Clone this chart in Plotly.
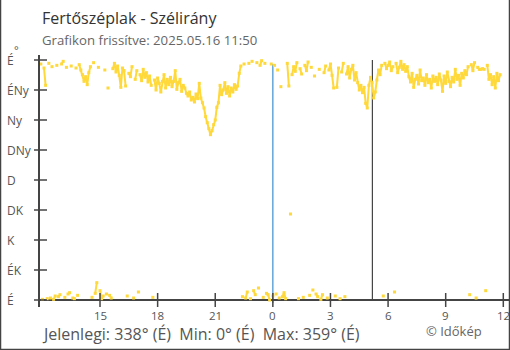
import plotly.graph_objects as go
import pandas as pd

# Wind direction (degrees), one reading every 5 minutes from 11:55 on 15 May
series_start = "2025-05-15 11:55"
step = "5min"
wind_dir_deg = [
    354, 1, 348, 322, 2,
    355, 3, 350, 1, 6, 352, 5, 8, 354, 358, 4, 349, 9, 11, 351, 3, 2, 348, 7, 353, 345,
    338, 328, 335, 323, 341, 350,
    4, 356, 10, 26, 349, 14, 2, 6, 345, 9, 318, 7, 3, 347, 355, 342, 351, 337, 319, 348, 344,
    321, 6, 340, 335, 350, 3, 331, 344, 12, 338, 329, 346, 334, 341, 327,
    336, 322, 4, 330, 315, 333, 325, 312, 328, 338, 318, 331, 323, 334,
    320, 328, 344, 316, 326, 331, 313, 322, 318, 310, 306,
    312, 300, 304, 297, 309, 302, 325, 303, 296,
    288, 275, 266, 257, 248,
    254, 263, 270,
    289, 296, 322, 308,
    315, 326, 310, 320, 306, 318, 312, 323, 316, 321,
    340, 351,
    5, 354, 3, 12, 355, 2, 358, 14, 8, 356, 18, 352, 359, 4, 355, 10, 8, 0, 354, 6,
    352, 9, 345, 3, 320, 5, 11, 2, 355, 321, 129, 338, 350, 343, 356, 2, 347, 339, 4, 352,
    344, 357, 7, 349, 15, 336, 9, 5, 346, 1, 8, 341, 351, 3, 345, 354, 337, 318, 6, 319,
    348, 2, 342, 355, 5, 339, 350, 333, 346, 352, 330, 341,
    326, 315, 322, 311, 319,
    295, 288,
    322, 334, 326,
    303, 312, 330,
    345, 338, 352, 6, 355, 347,
    352, 357, 344, 350, 12, 355, 341, 349, 358, 346, 353, 343, 350,
    335, 327, 340, 319, 331, 337, 324, 345, 329, 333, 322, 338, 326, 331, 318, 336, 328, 334, 323,
    339, 330, 313, 336, 325, 342, 328, 320, 334, 327, 346, 331, 337, 322, 340, 333, 344, 338,
    350, 8, 353, 344, 356, 3, 349, 346, 346, 347, 346, 14, 352,
    331, 338, 323, 335, 318, 340, 329, 338,
]

dir_tick_vals = [0, 45, 90, 135, 180, 225, 270, 315, 360]
dir_tick_text = ["É", "ÉK", "K", "DK", "D", "DNy", "Ny", "ÉNy", "É"]
compass8 = ["É", "ÉK", "K", "DK", "D", "DNy", "Ny", "ÉNy"]

hour_tick_vals = ["2025-05-15 15:00", "2025-05-15 18:00", "2025-05-15 21:00",
                  "2025-05-16 00:00", "2025-05-16 03:00", "2025-05-16 06:00",
                  "2025-05-16 09:00", "2025-05-16 12:00"]
hour_tick_text = ["15", "18", "21", "0", "3", "6", "9", "12"]

midnight = "2025-05-16 00:00"
sunrise = "2025-05-16 05:11"
x_range = ["2025-05-15 11:52:30", "2025-05-16 12:17:48"]
y_range = [-10.5, 367.5]

YELLOW = "#FFD83A"
AXIS = "#444444"
TEXT = "#555555"
FONT = "Open Sans"

W, H = 510, 350
ML, MR, MT, MB = 40, 1, 55, 43
PW, PH = W - ML - MR, H - MT - MB


def px_x(px):
    return (px - ML) / PW


def px_y(py):
    return (H - MB - py) / PH


def compass(deg):
    return compass8[int(round(deg / 45.0)) % 8]


# Break the line where the direction wraps around north
times = pd.date_range(series_start, periods=len(wind_dir_deg), freq=step)
xs, ys = [], []
prev = None
for t, v in zip(times, wind_dir_deg):
    if prev is not None and abs(v - prev) > 180:
        xs.append(None)
        ys.append(None)
    xs.append(t.strftime("%Y-%m-%d %H:%M"))
    ys.append(v)
    prev = v

fig = go.Figure(go.Scatter(
    x=xs, y=ys, mode="lines+markers", connectgaps=False,
    line=dict(color=YELLOW, width=2),
    marker=dict(symbol="square", size=3, color=YELLOW, line=dict(width=0)),
    hoverinfo="skip",
))

shapes = []
# day boundary and sunrise markers
shapes.append(dict(type="line", xref="x", yref="y", x0=midnight, x1=midnight,
                   y0=-4.5, y1=354, line=dict(color="#3B8FD0", width=1.2), layer="below"))
shapes.append(dict(type="line", xref="x", yref="y", x0=sunrise, x1=sunrise,
                   y0=0, y1=360, line=dict(color=AXIS, width=1.2), layer="below"))
# crossing tick marks
for v in dir_tick_vals:
    shapes.append(dict(type="line", xref="paper", yref="y", x0=px_x(34), x1=px_x(47),
                       y0=v, y1=v, line=dict(color=AXIS, width=1.5)))
for t in hour_tick_vals:
    shapes.append(dict(type="line", xref="x", yref="y", x0=t, x1=t,
                       y0=-10.5, y1=10.5, line=dict(color=AXIS, width=1.5)))
# outer frame
shapes.append(dict(type="line", xref="paper", yref="paper", x0=px_x(0.5), x1=px_x(0.5),
                   y0=px_y(0), y1=px_y(349.5), line=dict(color=AXIS, width=1.5)))
shapes.append(dict(type="line", xref="paper", yref="paper", x0=px_x(509.5), x1=px_x(509.5),
                   y0=px_y(0), y1=px_y(349.5), line=dict(color=AXIS, width=1.5)))
shapes.append(dict(type="line", xref="paper", yref="paper", x0=px_x(0), x1=px_x(510),
                   y0=px_y(349.5), y1=px_y(349.5), line=dict(color=AXIS, width=1.5)))

annotations = []
for v, txt in zip(dir_tick_vals, dir_tick_text):
    annotations.append(dict(xref="paper", yref="y", x=px_x(5), y=v, text=txt,
                            xanchor="left", yanchor="middle", showarrow=False,
                            font=dict(family=FONT, size=12, color=TEXT)))
annotations.append(dict(xref="paper", yref="paper", x=px_x(12), y=px_y(49), text="°",
                        xanchor="left", yanchor="middle", showarrow=False,
                        font=dict(family=FONT, size=11, color=TEXT)))
for t, txt in zip(hour_tick_vals, hour_tick_text):
    annotations.append(dict(xref="x", yref="paper", x=t, y=px_y(315.5), text=txt,
                            xanchor="center", yanchor="middle", showarrow=False,
                            font=dict(family=FONT, size=11.5, color=TEXT)))

annotations.append(dict(xref="paper", yref="paper", x=px_x(40), y=px_y(18),
                        text="Fertőszéplak - Szélirány", xanchor="left", yanchor="middle",
                        showarrow=False, font=dict(family=FONT, size=16, color="#333333")))
annotations.append(dict(xref="paper", yref="paper", x=px_x(40), y=px_y(40),
                        text="Grafikon frissítve: 2025.05.16 11:50", xanchor="left",
                        yanchor="middle", showarrow=False,
                        font=dict(family=FONT, size=13.2, color="#666666")))

cur = wind_dir_deg[-1]
lo = min(wind_dir_deg)
hi = max(wind_dir_deg)
summary = (f"Jelenlegi: {cur}° ({compass(cur)})  Min: {lo}° ({compass(lo)})  "
           f"Max: {hi}° ({compass(hi)})")
annotations.append(dict(xref="paper", yref="paper", x=px_x(40), y=px_y(334),
                        text=summary, xanchor="left", yanchor="middle", showarrow=False,
                        font=dict(family=FONT, size=16, color=TEXT)))
annotations.append(dict(xref="paper", yref="paper", x=px_x(424), y=px_y(331),
                        text="© Időkép", xanchor="left", yanchor="middle", showarrow=False,
                        font=dict(family=FONT, size=13, color="#666666")))

fig.update_layout(
    width=W, height=H,
    margin=dict(l=ML, r=MR, t=MT, b=MB, pad=0),
    paper_bgcolor="white", plot_bgcolor="white",
    showlegend=False,
    font=dict(family=FONT, color=TEXT),
    xaxis=dict(type="date", range=x_range, showticklabels=False,
               ticks="", showgrid=False, showline=False, zeroline=False),
    yaxis=dict(range=y_range, showgrid=False, showticklabels=False, ticks="",
               showline=True, linecolor=AXIS, linewidth=1.5,
               zeroline=True, zerolinecolor=AXIS, zerolinewidth=1.5),
    shapes=shapes,
    annotations=annotations,
)

fig.write_html("out.html")
